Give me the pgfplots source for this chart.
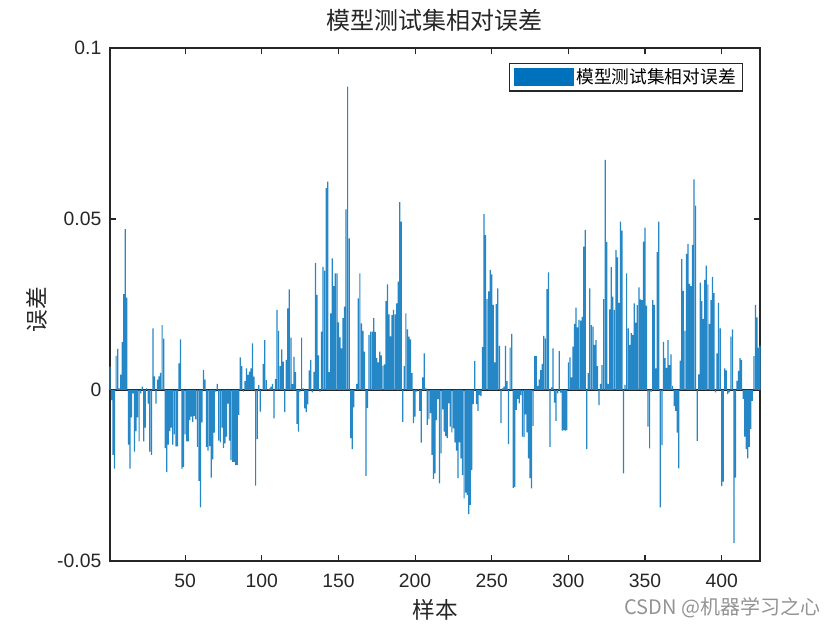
\documentclass[border=0pt]{standalone}
\usepackage{fontspec}
\setmainfont{Liberation Sans}
\newfontfamily\cjk{Noto Sans CJK SC}
\usepackage{pgfplots}
\usepackage{pgfplotstable}
\pgfplotsset{compat=1.18}
\definecolor{matblue}{HTML}{0072BD}
\definecolor{axgray}{rgb}{0.15,0.15,0.15}

% relative error of the test set, one value per sample (1..425)
\pgfplotstableread[row sep=\\]{
y\\
0.0068\\-0.003\\-0.019\\-0.023\\0.010\\0.012\\0.0005\\0.0045\\0.014\\0.028\\
0.047\\0.027\\-0.016\\-0.023\\-0.008\\-0.001\\-0.018\\-0.012\\-0.008\\-0.015\\
-0.001\\0.001\\-0.015\\-0.011\\0.0005\\-0.004\\-0.018\\-0.019\\0.018\\0.004\\
-0.004\\0.003\\0.004\\0.005\\0.019\\0.015\\-0.017\\-0.024\\-0.016\\-0.012\\
-0.011\\-0.016\\
-0.013\\-0.0165\\-0.0165\\0.0078\\0.0148\\-0.023\\-0.0225\\-0.013\\-0.015\\-0.015\\
-0.0088\\-0.0078\\-0.0093\\-0.0076\\-0.0086\\-0.0166\\-0.0266\\-0.0343\\-0.0095\\0.0058\\
0.003\\-0.0166\\-0.0177\\-0.0164\\-0.0256\\-0.0203\\-0.0125\\-0.0005\\0.0018\\-0.0148\\
-0.0153\\-0.011\\-0.0169\\-0.0156\\-0.0136\\-0.004\\-0.0148\\-0.0205\\-0.021\\-0.021\\
-0.022\\-0.022\\-0.0073\\0.0095\\
0.007\\-0.0005\\0.0026\\0.0063\\0.0044\\0.0054\\0.0063\\0.0136\\0.0039\\-0.028\\
-0.0144\\0.0015\\-0.0063\\0.0002\\0.0076\\0.0146\\0.0029\\0.0002\\0.0005\\0.001\\
0.0018\\-0.0083\\0.0032\\0.0234\\0.0173\\0.007\\0.0119\\0.0083\\-0.0065\\0.0088\\
0.0239\\0.0294\\0.0153\\0.0017\\0.0097\\0.0052\\-0.0099\\-0.0122\\-0.0005\\0.0153\\
0.0005\\-0.0054\\-0.0065\\
-0.0042\\0.0057\\0.0088\\-0.0007\\0.0053\\0.0372\\0.0278\\0.0101\\-0.0005\\0.0171\\
0.036\\0.0349\\0.059\\0.0609\\0.0052\\0.0224\\0.0385\\0.0304\\0.0341\\0.0341\\
0.0198\\0.0154\\0.0122\\0.021\\0.0244\\0.0528\\0.0887\\0.0443\\-0.0141\\-0.0173\\
-0.0051\\0.0002\\0.0018\\0.0268\\0.0341\\0.0195\\0.0173\\0.0112\\-0.0251\\-0.0052\\
0.0161\\0.0171\\0.0171\\
0.021\\0.017\\0.0093\\0.0081\\0.0112\\0.0101\\0.0071\\0.0075\\0.026\\0.0309\\
0.0221\\0.0157\\0.0219\\0.0234\\0.0221\\0.0253\\0.0317\\0.0549\\0.0492\\-0.0093\\
0.007\\0.0224\\0.0177\\0.0156\\0.0148\\0.0049\\-0.0097\\-0.0078\\-0.0005\\0.0002\\
-0.0061\\-0.0154\\0.0037\\0.0107\\0.0005\\-0.0102\\-0.0085\\-0.0068\\-0.019\\-0.026\\
-0.0244\\-0.0088\\-0.0027\\
-0.0273\\-0.0185\\-0.0057\\-0.0122\\-0.0135\\-0.0141\\-0.0039\\-0.0107\\-0.0124\\-0.0112\\
-0.0153\\-0.0177\\-0.0258\\-0.0153\\-0.02\\-0.0249\\-0.0317\\-0.03\\-0.0307\\-0.0363\\
-0.0336\\-0.0234\\-0.0041\\0.0085\\-0.0041\\-0.0061\\-0.0015\\-0.0018\\0.0125\\0.0514\\
0.0453\\0.0266\\0.0288\\0.0351\\0.0338\\0.0249\\0.0081\\0.0251\\0.0297\\0.0129\\
-0.0097\\0.0005\\0.001\\
0.0129\\0.0026\\-0.0158\\0.0124\\0.0164\\-0.0286\\-0.0283\\-0.0058\\-0.0026\\-0.0039\\
-0.0015\\-0.0136\\-0.0138\\-0.0071\\-0.0124\\-0.02\\-0.0258\\-0.0288\\-0.0105\\0.01\\
0.0099\\0.0012\\0.0031\\0.0058\\0.0076\\0.0158\\0.0151\\0.0295\\0.0344\\-0.0166\\
0.0008\\0.0122\\-0.0037\\-0.009\\-0.001\\0.0114\\-0.0008\\-0.0119\\-0.0117\\-0.0119\\
-0.0117\\0.0081\\0.0095\\
0.0037\\0.0127\\0.0193\\0.0241\\0.0183\\0.0205\\0.0203\\0.0214\\0.0419\\0.0468\\
-0.0173\\0.0049\\0.0297\\0.019\\0.0185\\0.0132\\0.0146\\0.007\\-0.0044\\0.0018\\
0.0073\\0.0266\\0.0673\\0.0432\\0.0018\\0.0236\\0.0359\\0.0273\\0.0234\\0.0409\\
0.0388\\0.0255\\0.0492\\0.0466\\-0.0244\\0.0015\\0.0341\\0.018\\0.0132\\0.0166\\
0.0161\\0.0253\\0.0197\\
0.0248\\0.03\\0.0265\\0.0263\\0.0434\\0.0475\\0.0247\\-0.0107\\-0.0171\\-0.0005\\
0.0263\\0.0249\\0.0063\\0.0403\\0.0492\\-0.0343\\-0.0161\\0.0141\\0.0093\\0.0065\\
0.0146\\0.0073\\0.0104\\0.0012\\-0.0047\\-0.0061\\-0.0125\\-0.0229\\0.0086\\0.0383\\
0.029\\0.0173\\0.0398\\0.0427\\0.031\\0.0304\\0.0424\\0.0616\\0.0539\\-0.0149\\
0.0046\\0.0314\\0.026\\
0.0208\\0.0322\\0.0364\\0.0309\\0.0193\\0.0263\\0.0331\\0.0283\\-0.0007\\0.0107\\
0.0255\\0.018\\-0.0281\\-0.0268\\0.0063\\0.0057\\-0.0012\\-0.0007\\0.0156\\0.0177\\
-0.0448\\-0.0256\\0.0027\\0.0056\\0.0093\\0.0088\\-0.0026\\-0.0136\\-0.0173\\-0.02\\
-0.0166\\-0.0114\\-0.0032\\0.0099\\0.0249\\0.0212\\0.0124\\0.013\\
}\errdata

\begin{document}
\begin{tikzpicture}[x=1pt,y=1pt]
\path[use as bounding box] (-82.5,-51.75) rectangle (547.5,420.75);
\begin{axis}[
  at={(0,0)}, anchor=south west,
  width=487.5pt, height=384.75pt, scale only axis,
  xmin=1, xmax=425, ymin=-0.05, ymax=0.1,
  xtick={50,100,...,400},
  ytick={-0.05,0,0.05,0.1},
  yticklabels={-0.05,0,0.05,0.1},
  scaled y ticks=false,
  /pgf/number format/assume math mode=true,
  tick align=inside,
  major tick length=4.5pt,
  axis line style={axgray, line width=0.8pt},
  tick style={axgray, line width=0.8pt},
  tick label style={font=\fontsize{14.5}{16}\selectfont, text=axgray},
  xticklabel style={yshift=-6pt},
  yticklabel style={xshift=-3pt},
  extra y ticks={0},
  extra y tick labels={},
  extra y tick style={grid=major, major grid style={axgray, line width=0.8pt}},
  title={模型测试集相对误差},
  title style={at={(0.5,1.039)}, anchor=center, font=\cjk\fontsize{18}{20}\selectfont, text=axgray},
  xlabel={样本},
  xlabel style={at={(0.5,-0.0955)}, anchor=center, font=\cjk\fontsize{17}{19}\selectfont, text=axgray},
  ylabel={误差},
  ylabel style={at={(-0.1123,0.49)}, anchor=center, font=\cjk\fontsize{17}{19}\selectfont, text=axgray},
  legend style={at={(0.974,0.971)}, anchor=north east, draw=axgray, line width=0.8pt,
    font=\cjk\fontsize{13.3}{15}\selectfont, inner xsep=3pt, inner ysep=2pt,
    /tikz/every even column/.append style={column sep=2pt}},
  legend cell align=left,
  clip=false,
]
\addplot[ybar, bar width=0.8, fill=matblue!85, draw=none,
  legend image code/.code={\fill[matblue] (0pt,-6.75pt) rectangle (45pt,6.75pt);}]
  table[x expr=\coordindex+1, y=y] {\errdata};
\addlegendentry{模型测试集相对误差}
\node[anchor=east, text=gray!85] at (rel axis cs:1.1,-0.0916)
  {\cjk\fontsize{15}{17}\selectfont CSDN @机器学习之心};
\end{axis}
\end{tikzpicture}
\end{document}
